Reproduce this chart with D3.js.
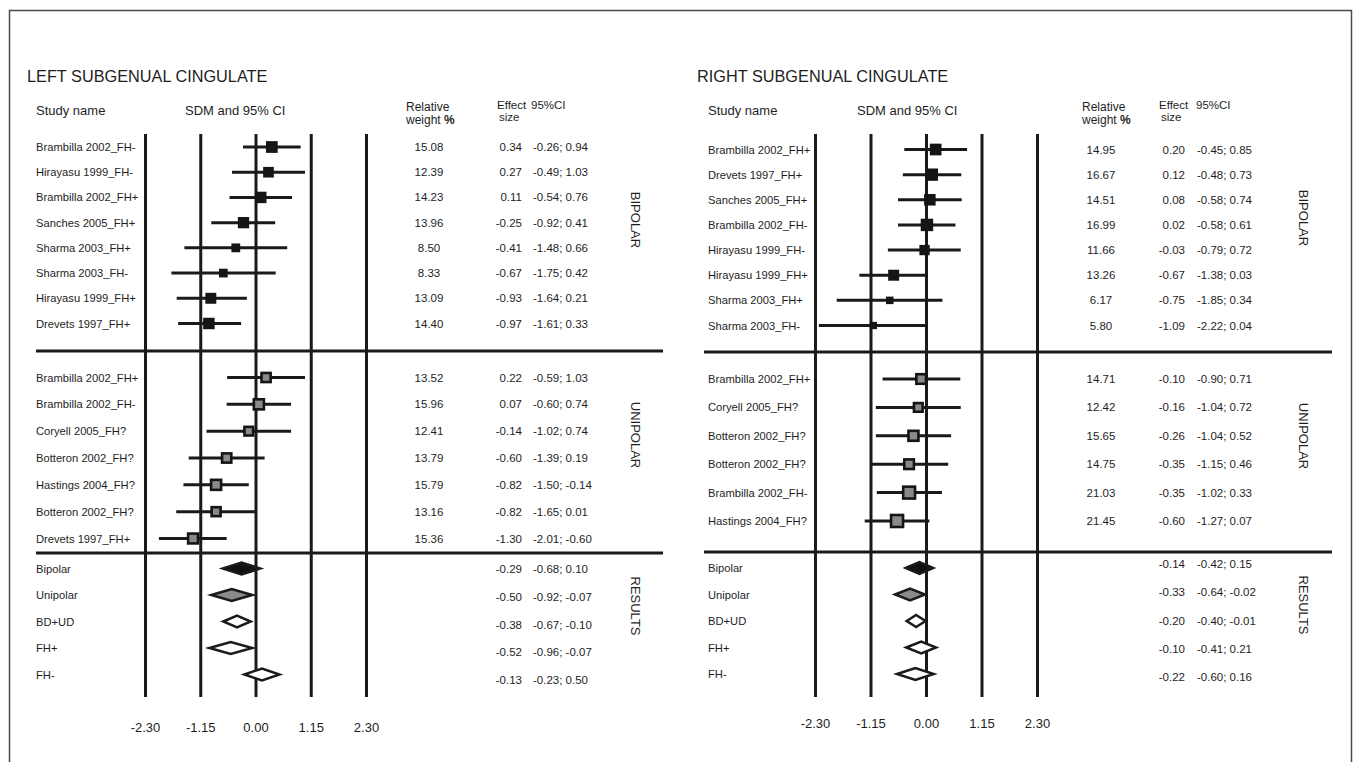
<!DOCTYPE html>
<html>
<head>
<meta charset="utf-8">
<script src="https://cdn.jsdelivr.net/npm/d3@7"></script>
<style>
    body { margin: 0; background: #fff; }
    svg { display: block; font-family: "Liberation Sans", Arial, Helvetica, sans-serif; }
    text { fill: #1e1e1e; }
    .grid .tick line { stroke: #1a1a1a; stroke-width: 3; }
    .ci { stroke: #1a1a1a; stroke-width: 3; }
    .sep { stroke: #1a1a1a; stroke-width: 3; }
    .diamond { stroke: #1a1a1a; stroke-width: 2.5; stroke-linejoin: miter; stroke-miterlimit: 10; }
</style>
</head>
<body>
<svg id="chart" width="1356" height="762"></svg>
<script>
const TICKS = [-2.3, -1.15, 0, 1.15, 2.3];
const GROUP_NAMES = ["BIPOLAR", "UNIPOLAR", "RESULTS"];

// [study, relative weight %, effect size, CI low, CI high, whisker end as drawn when it differs from the printed CI]
const leftBipolar = [
    ["Brambilla 2002_FH-", 15.08, 0.34, -0.26, 0.94],
    ["Hirayasu 1999_FH-", 12.39, 0.27, -0.49, 1.03],
    ["Brambilla 2002_FH+", 14.23, 0.11, -0.54, 0.76],
    ["Sanches 2005_FH+", 13.96, -0.25, -0.92, 0.41],
    ["Sharma 2003_FH+", 8.50, -0.41, -1.48, 0.66],
    ["Sharma 2003_FH-", 8.33, -0.67, -1.75, 0.42],
    ["Hirayasu 1999_FH+", 13.09, -0.93, -1.64, 0.21, -0.18],
    ["Drevets 1997_FH+", 14.40, -0.97, -1.61, 0.33, -0.30],
];

const leftUnipolar = [
    ["Brambilla 2002_FH+", 13.52, 0.22, -0.59, 1.03],
    ["Brambilla 2002_FH-", 15.96, 0.07, -0.60, 0.74],
    ["Coryell 2005_FH?", 12.41, -0.14, -1.02, 0.74],
    ["Botteron 2002_FH?", 13.79, -0.60, -1.39, 0.19],
    ["Hastings 2004_FH?", 15.79, -0.82, -1.50, -0.14],
    ["Botteron 2002_FH?", 13.16, -0.82, -1.65, 0.01],
    ["Drevets 1997_FH+", 15.36, -1.30, -2.01, -0.60],
];

// [summary, effect size, CI low, CI high]
const leftResults = [
    ["Bipolar", -0.29, -0.68, 0.10],
    ["Unipolar", -0.50, -0.92, -0.07],
    ["BD+UD", -0.38, -0.67, -0.10],
    ["FH+", -0.52, -0.96, -0.07],
    ["FH-", -0.13, -0.23, 0.50],
];

const rightBipolar = [
    ["Brambilla 2002_FH+", 14.95, 0.20, -0.45, 0.85],
    ["Drevets 1997_FH+", 16.67, 0.12, -0.48, 0.73],
    ["Sanches 2005_FH+", 14.51, 0.08, -0.58, 0.74],
    ["Brambilla 2002_FH-", 16.99, 0.02, -0.58, 0.61],
    ["Hirayasu 1999_FH-", 11.66, -0.03, -0.79, 0.72],
    ["Hirayasu 1999_FH+", 13.26, -0.67, -1.38, 0.03],
    ["Sharma 2003_FH+", 6.17, -0.75, -1.85, 0.34],
    ["Sharma 2003_FH-", 5.80, -1.09, -2.22, 0.04],
];

const rightUnipolar = [
    ["Brambilla 2002_FH+", 14.71, -0.10, -0.90, 0.71],
    ["Coryell 2005_FH?", 12.42, -0.16, -1.04, 0.72],
    ["Botteron 2002_FH?", 15.65, -0.26, -1.04, 0.52],
    ["Botteron 2002_FH?", 14.75, -0.35, -1.15, 0.46],
    ["Brambilla 2002_FH-", 21.03, -0.35, -1.02, 0.33],
    ["Hastings 2004_FH?", 21.45, -0.60, -1.27, 0.07],
];

const rightResults = [
    ["Bipolar", -0.14, -0.42, 0.15],
    ["Unipolar", -0.33, -0.64, -0.02],
    ["BD+UD", -0.20, -0.40, -0.01],
    ["FH+", -0.10, -0.41, 0.21],
    ["FH-", -0.22, -0.60, 0.16],
];

const RESULT_FILL = { Bipolar: "#111", Unipolar: "#8a8a8a" };
const LINE_TOP = 134;
const LINE_BOTTOM = 697;

const panels = [
    {
        title: "LEFT SUBGENUAL CINGULATE", titleX: 27,
        studyX: 36, sdmX: 185, relX: 406, effX: 497, ciHeadX: 531,
        weightX: 429, effectRight: 522, ciX: 533, groupX: 636,
        x0: 145, x1: 366, sepX0: 36, sepX1: 663, sepY: [351, 553], tickPad: 26,
        groups: [
            { rows: leftBipolar, range: [147, 323.5], labelY: 220, kind: "solid" },
            { rows: leftUnipolar, range: [377.5, 538.5], labelY: 435, kind: "gray" },
        ],
        results: leftResults, resultRange: [568.5, 674.5], resultNumRange: [569, 680], resultLabelY: 606,
    },
    {
        title: "RIGHT SUBGENUAL CINGULATE", titleX: 697,
        studyX: 708, sdmX: 857, relX: 1082, effX: 1159, ciHeadX: 1196,
        weightX: 1101, effectRight: 1185, ciX: 1197, groupX: 1304,
        x0: 815, x1: 1037, sepX0: 704, sepX1: 1332, sepY: [352, 552], tickPad: 22,
        groups: [
            { rows: rightBipolar, range: [149.5, 325.5], labelY: 218, kind: "solid" },
            { rows: rightUnipolar, range: [379, 521], labelY: 436, kind: "gray" },
        ],
        results: rightResults, resultRange: [568, 674], resultNumRange: [564, 677], resultLabelY: 605,
    },
];

const svg = d3.select("#chart");

function groupLabel(g, x, y, text) {
    g.append("text")
        .attr("transform", `translate(${x},${y}) rotate(90)`)
        .attr("text-anchor", "middle")
        .attr("dy", "0.35em")
        .attr("font-size", 13)
        .text(text);
}

function drawPanel(p) {
    const g = svg.append("g");
    const x = d3.scaleLinear().domain([TICKS[0], TICKS[TICKS.length - 1]]).range([p.x0, p.x1]);
    const size = d3.scaleSqrt().domain([0, 21.45]).range([0, 14]);

    g.append("text").attr("x", p.titleX).attr("y", 82).attr("font-size", 16.3).text(p.title);

    g.append("text").attr("x", p.studyX).attr("y", 114.5).attr("font-size", 13).text("Study name");
    g.append("text").attr("x", p.sdmX).attr("y", 114.5).attr("font-size", 13).text("SDM and 95% CI");
    g.append("text").attr("x", p.relX).attr("y", 111).attr("font-size", 12).text("Relative");
    const weightHead = g.append("text").attr("x", p.relX).attr("y", 123.5).attr("font-size", 12);
    weightHead.append("tspan").text("weight ");
    weightHead.append("tspan").attr("font-weight", "bold").text("%");
    g.append("text").attr("x", p.effX).attr("y", 108.5).attr("font-size", 11.5).text("Effect");
    g.append("text").attr("x", p.effX + 2).attr("y", 121).attr("font-size", 11.5).text("size");
    g.append("text").attr("x", p.ciHeadX).attr("y", 108.5).attr("font-size", 11.5).text("95%CI");

    // vertical reference lines and their labels come from one axis
    g.append("g")
        .attr("class", "grid")
        .attr("transform", `translate(0,${LINE_BOTTOM})`)
        .call(d3.axisBottom(x)
            .tickValues(TICKS)
            .tickFormat((d) => d.toFixed(2))
            .tickSizeInner(-(LINE_BOTTOM - LINE_TOP))
            .tickSizeOuter(0)
            .tickPadding(p.tickPad))
        .call((a) => a.select(".domain").remove())
        .attr("font-family", null)
        .attr("font-size", 13);

    g.selectAll(".sep")
        .data(p.sepY)
        .join("line")
        .attr("class", "sep")
        .attr("x1", p.sepX0)
        .attr("x2", p.sepX1)
        .attr("y1", (d) => d)
        .attr("y2", (d) => d);

    p.groups.forEach((grp, gi) => {
        const y = d3.scalePoint().domain(d3.range(grp.rows.length)).range(grp.range);
        const row = g.append("g").selectAll("g")
            .data(grp.rows)
            .join("g")
            .attr("transform", (d, i) => `translate(0,${y(i)})`);

        row.append("text").attr("x", p.studyX).attr("y", 4).attr("font-size", 11.2).text((d) => d[0]);

        row.append("line")
            .attr("class", "ci")
            .attr("x1", (d) => x(d[3]))
            .attr("x2", (d) => x(d[5] ?? d[4]));

        if (grp.kind === "solid") {
            row.append("rect")
                .attr("x", (d) => x(d[2]) - size(d[1]) / 2)
                .attr("y", (d) => -size(d[1]) / 2)
                .attr("width", (d) => size(d[1]))
                .attr("height", (d) => size(d[1]))
                .attr("fill", "#151515");
        } else {
            row.append("rect")
                .attr("x", (d) => x(d[2]) - (size(d[1]) - 2) / 2)
                .attr("y", (d) => -(size(d[1]) - 2) / 2)
                .attr("width", (d) => size(d[1]) - 2)
                .attr("height", (d) => size(d[1]) - 2)
                .attr("fill", "#8a8a8a")
                .attr("stroke", "#151515")
                .attr("stroke-width", 2.6);
        }

        row.append("text").attr("x", p.weightX).attr("y", 4).attr("text-anchor", "middle")
            .attr("font-size", 11.5).text((d) => d[1].toFixed(2));
        row.append("text").attr("x", p.effectRight).attr("y", 4).attr("text-anchor", "end")
            .attr("font-size", 11.5).text((d) => d[2].toFixed(2));
        row.append("text").attr("x", p.ciX).attr("y", 4)
            .attr("font-size", 11.5).text((d) => `${d[3].toFixed(2)}; ${d[4].toFixed(2)}`);

        groupLabel(g, p.groupX, grp.labelY, GROUP_NAMES[gi]);
    });

    const ry = d3.scalePoint().domain(d3.range(p.results.length)).range(p.resultRange);
    const ny = d3.scalePoint().domain(d3.range(p.results.length)).range(p.resultNumRange);
    const res = g.append("g").selectAll("g").data(p.results).join("g");

    res.append("text").attr("x", p.studyX).attr("y", (d, i) => ry(i) + 4)
        .attr("font-size", 11.2).text((d) => d[0]);
    res.append("path")
        .attr("class", "diamond")
        .attr("fill", (d) => RESULT_FILL[d[0]] || "#fff")
        .attr("d", (d, i) => {
            const yy = ry(i);
            const mid = x((d[2] + d[3]) / 2);
            return `M${x(d[2])},${yy}L${mid},${yy - 6}L${x(d[3])},${yy}L${mid},${yy + 6}Z`;
        });
    res.append("text").attr("x", p.effectRight).attr("y", (d, i) => ny(i) + 4).attr("text-anchor", "end")
        .attr("font-size", 11.5).text((d) => d[1].toFixed(2));
    res.append("text").attr("x", p.ciX).attr("y", (d, i) => ny(i) + 4)
        .attr("font-size", 11.5).text((d) => `${d[2].toFixed(2)}; ${d[3].toFixed(2)}`);

    groupLabel(g, p.groupX, p.resultLabelY, GROUP_NAMES[2]);
}

svg.append("rect")
    .attr("x", 9.5).attr("y", 10.5)
    .attr("width", 1342).attr("height", 800)
    .attr("fill", "none")
    .attr("stroke", "#4a4a4a")
    .attr("stroke-width", 1.5);

panels.forEach(drawPanel);
</script>
</body>
</html>
